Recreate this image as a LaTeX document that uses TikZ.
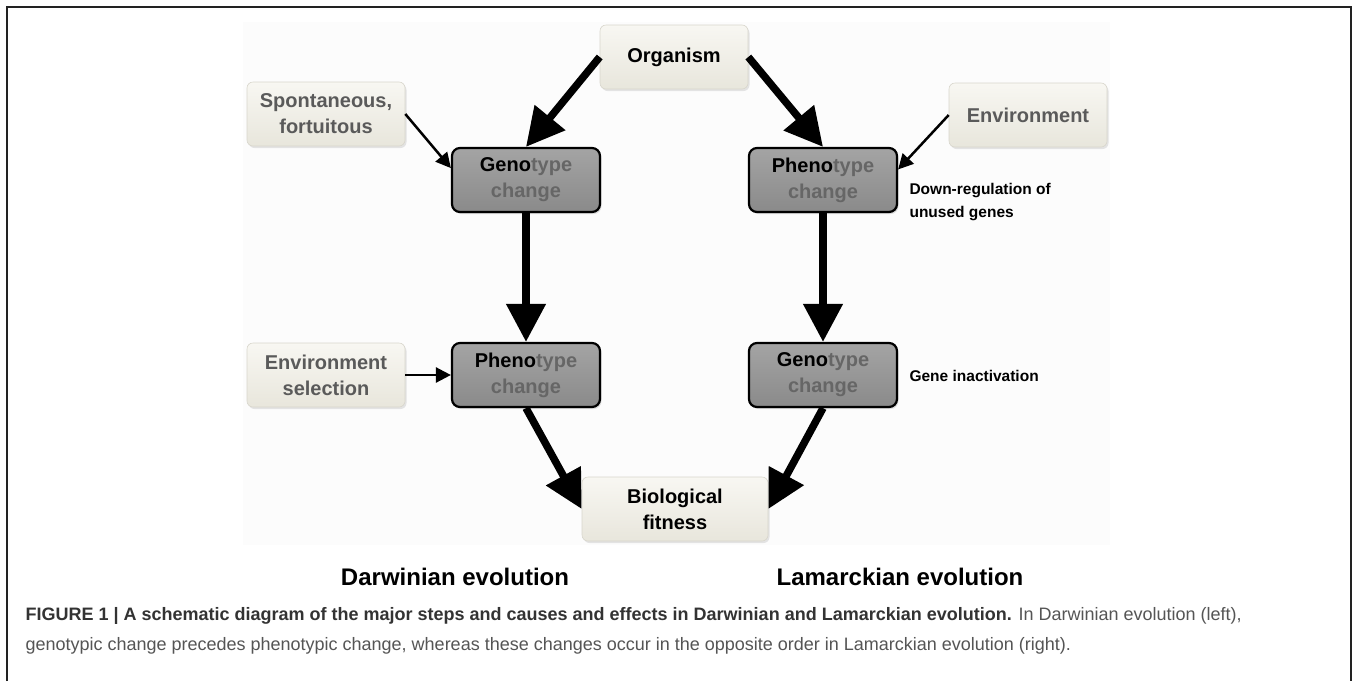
\documentclass[tikz,border=0pt]{standalone}
\usepackage{fontspec}
\setmainfont{Liberation Sans}
\usetikzlibrary{arrows.meta, positioning, shadows}

\definecolor{creamtop}{HTML}{F8F7F2}
\definecolor{creambot}{HTML}{E8E6DC}
\definecolor{creamedge}{HTML}{D8D6CC}
\definecolor{darktop}{HTML}{A4A4A4}
\definecolor{darkbot}{HTML}{8A8A8A}
\definecolor{softtext}{HTML}{5A5A5A}
\definecolor{typegray}{HTML}{666666}
\definecolor{framegray}{HTML}{222222}
\definecolor{captext}{HTML}{555555}
\definecolor{capbold}{HTML}{333333}

\begin{document}
\begin{tikzpicture}[x=1pt, y=-1pt,
    lightbox/.style = {rounded corners=6pt, minimum width=158pt, minimum height=64pt,
        top color=creamtop, bottom color=creambot, draw=creamedge, line width=0.6pt,
        drop shadow={opacity=0.2, shadow xshift=1.5pt, shadow yshift=-2pt},
        align=center, font=\fontsize{20}{26}\selectfont\bfseries},
    darkbox/.style = {rounded corners=8pt, minimum width=148pt, minimum height=64pt,
        top color=darktop, bottom color=darkbot, draw=black, line width=2.2pt,
        drop shadow={opacity=0.25, shadow xshift=1.5pt, shadow yshift=-2pt},
        align=center, text=typegray, font=\fontsize{20}{26}\selectfont\bfseries},
    bigarrow/.style = {line width=7.5pt, -{Triangle[length=38pt, width=38pt]}},
    thinarrow/.style = {line width=2.5pt, -{Triangle[length=15pt, width=15pt]}},
    notetext/.style = {anchor=west, align=left, font=\fontsize{15.5}{23}\selectfont\bfseries},
    titletext/.style = {font=\fontsize{24}{28}\selectfont\bfseries}
    ]
    \useasboundingbox (0,0) rectangle (1356,681);
    \fill[white] (0,0) rectangle (1356,681);
    \fill[black!1] (243,22) rectangle (1110,545);
    \draw[framegray, line width=1.5pt] (7,681) -- (7,7) -- (1351,7) -- (1351,681);

    % boxes
    \node[lightbox, minimum width=148pt] (org) at (674,57) {Organism};
    \node[lightbox, text=softtext] (spont) at (326,114) {Spontaneous,\\fortuitous};
    \node[lightbox, text=softtext] (env) at (1028,115) {Environment};
    \node[darkbox] (genoL) at (526,180) {\textcolor{black}{Geno}type\\change};
    \node[darkbox] (phenR) at (823,180) {\textcolor{black}{Pheno}type\\change};
    \node[lightbox, text=softtext] (envsel) at (326,375) {Environment\\selection};
    \node[darkbox] (phenL) at (526,375) {\textcolor{black}{Pheno}type\\change};
    \node[darkbox] (genoR) at (823,375) {\textcolor{black}{Geno}type\\change};
    \node[lightbox, minimum width=186pt] (bio) at (675,509) {Biological\\fitness};

    % side notes
    \node[notetext] (downreg) at (906,202) {Down-regulation of\\unused genes};
    \node[notetext] (inact) at (906,376) {Gene inactivation};

    % titles
    \node[titletext] (darwin) at (455,577) {Darwinian evolution};
    \node[titletext] (lamarck) at (900,577) {Lamarckian evolution};

    % arrows
    \draw[bigarrow] (org.west) -- (genoL.north);
    \draw[bigarrow] (org.east) -- (phenR.north);
    \draw[bigarrow] (genoL.south) -- (phenL.north);
    \draw[bigarrow] (phenR.south) -- (genoR.north);
    \draw[bigarrow] (phenL.south) -- (bio.west);
    \draw[bigarrow] (genoR.south) -- (bio.east);
    \draw[thinarrow] (spont.east) -- (genoL.171);
    \draw[thinarrow] (env.west) -- (phenR.8);
    \draw[thinarrow] (envsel.east) -- (phenL.west);

    % caption
    \node[anchor=west, align=left, text=captext, font=\fontsize{18}{30}\selectfont] (caption) at (22,631)
        {\textcolor{capbold}{\bfseries FIGURE 1 | A schematic diagram of the major steps and causes and effects in Darwinian and Lamarckian evolution.} In Darwinian evolution (left),\\
        genotypic change precedes phenotypic change, whereas these changes occur in the opposite order in Lamarckian evolution (right).};
\end{tikzpicture}
\end{document}
